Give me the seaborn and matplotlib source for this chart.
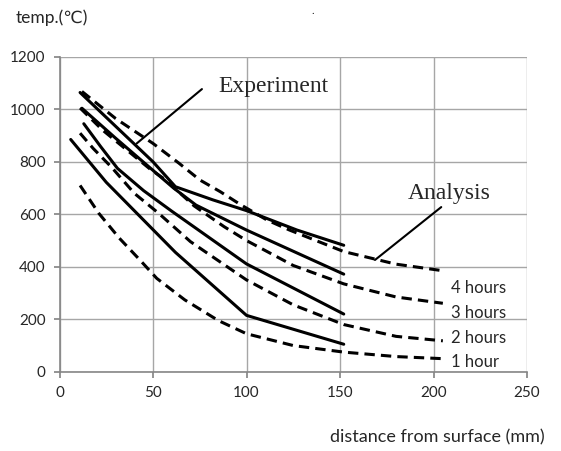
import matplotlib
matplotlib.use("Agg")
import matplotlib.pyplot as plt
import seaborn as sns
import pandas as pd

# Experiment (solid) series
exp_1h_x = [6, 25, 62, 100, 152]
exp_1h_y = [885, 722, 455, 215, 105]
exp_2h_x = [13, 22, 31, 45, 60, 100, 152]
exp_2h_y = [945, 858, 775, 690, 612, 411, 220]
exp_3h_x = [12, 30, 61, 73, 100, 152]
exp_3h_y = [1004, 890, 700, 635, 540, 372]
exp_4h_x = [11, 50, 62, 82, 100, 127, 152]
exp_4h_y = [1064, 800, 705, 655, 614, 540, 482]

# Analysis (dashed) series
ana_1h_x = [11, 21, 32, 43, 52, 67, 85, 100, 125, 152, 180, 205]
ana_1h_y = [710, 604, 509, 426, 356, 274, 195, 145, 100, 75, 58, 50]
ana_2h_x = [11, 18, 28, 40, 53, 70, 100, 125, 152, 180, 205]
ana_2h_y = [909, 851, 778, 680, 604, 496, 350, 255, 180, 135, 118]
ana_3h_x = [11, 23, 36, 49, 56, 72, 88, 100, 125, 152, 180, 205]
ana_3h_y = [1005, 921, 845, 769, 735, 632, 553, 500, 405, 335, 285, 261]
ana_4h_x = [12, 30, 50, 64, 75, 86, 97, 111, 123, 152, 180, 205]
ana_4h_y = [1068, 965, 870, 794, 731, 686, 636, 578, 540, 458, 410, 385]

hour_labels = ["4 hours", "3 hours", "2 hours", "1 hour"]
hour_label_y = [320, 224, 129, 37]
x_ticks = [0, 50, 100, 150, 200, 250]
y_ticks = [0, 200, 400, 600, 800, 1000, 1200]

series = [
    ("exp1", "Experiment", exp_1h_x, exp_1h_y),
    ("exp2", "Experiment", exp_2h_x, exp_2h_y),
    ("exp3", "Experiment", exp_3h_x, exp_3h_y),
    ("exp4", "Experiment", exp_4h_x, exp_4h_y),
    ("ana1", "Analysis", ana_1h_x, ana_1h_y),
    ("ana2", "Analysis", ana_2h_x, ana_2h_y),
    ("ana3", "Analysis", ana_3h_x, ana_3h_y),
    ("ana4", "Analysis", ana_4h_x, ana_4h_y),
]
rows = []
for name, kind, xs, ys in series:
    for i, (xv, yv) in enumerate(zip(xs, ys)):
        rows.append({"series": name, "kind": kind, "order": i, "x": xv, "y": yv})
df = pd.DataFrame(rows)

sns.set_theme(style="white")
plt.rcParams["font.family"] = ["Lato", "DejaVu Sans"]

fig = plt.figure(figsize=(5.61, 4.51), dpi=100)
ax = fig.add_axes([59.5 / 561, 1 - 371.8 / 451, (527 - 59.5) / 561, (371.8 - 56.8) / 451])

sns.lineplot(data=df, x="x", y="y", units="series", estimator=None, sort=False,
             style="kind", dashes={"Experiment": "", "Analysis": (3.4, 2.0)},
             color="black", linewidth=2.2, legend=False, ax=ax)

ax.set_xlim(0, 250)
ax.set_ylim(0, 1200)
ax.set_xticks(x_ticks)
ax.set_yticks(y_ticks)
ax.set_xticklabels([str(v) for v in x_ticks], fontsize=11)
ax.set_yticklabels([str(v) for v in y_ticks], fontsize=11)
ax.grid(True, color="#a6a6a6", linewidth=1.0)
ax.set_axisbelow(True)
for s in ["top", "right"]:
    ax.spines[s].set_visible(False)
for s in ["left", "bottom"]:
    ax.spines[s].set_color("#868686")
    ax.spines[s].set_linewidth(1.2)
ax.tick_params(axis="both", which="both", length=4, color="#868686", direction="out",
               bottom=True, left=True, pad=6)
ax.set_xlabel("")
ax.set_ylabel("")

for lab, yv in zip(hour_labels, hour_label_y):
    ax.text(209.5, yv, lab, fontsize=12, va="center", ha="left")

ax.annotate("Experiment", xy=(41.3, 870), xytext=(85, 1085),
            fontsize=17, family="Liberation Serif", va="center", ha="left",
            arrowprops=dict(arrowstyle="-", color="black", lw=1.5,
                            shrinkA=0, shrinkB=0, relpos=(-0.15, 0.4)))
ax.annotate("Analysis", xy=(168.7, 426), xytext=(186.5, 680),
            fontsize=17, family="Liberation Serif", va="center", ha="left",
            arrowprops=dict(arrowstyle="-", color="black", lw=1.5,
                            shrinkA=0, shrinkB=0, relpos=(0.4, -0.15)))

fig.text(16 / 561, 1 - 18 / 451, "temp.(℃)", fontsize=12.5, va="center", ha="left")
fig.text(545 / 561, 1 - 437 / 451, "distance from surface (mm)", fontsize=13,
         va="center", ha="right")
fig.text(313 / 561, 1 - 10 / 451, ".", fontsize=8, va="center", ha="center")

fig.savefig("out.png", dpi=100)
